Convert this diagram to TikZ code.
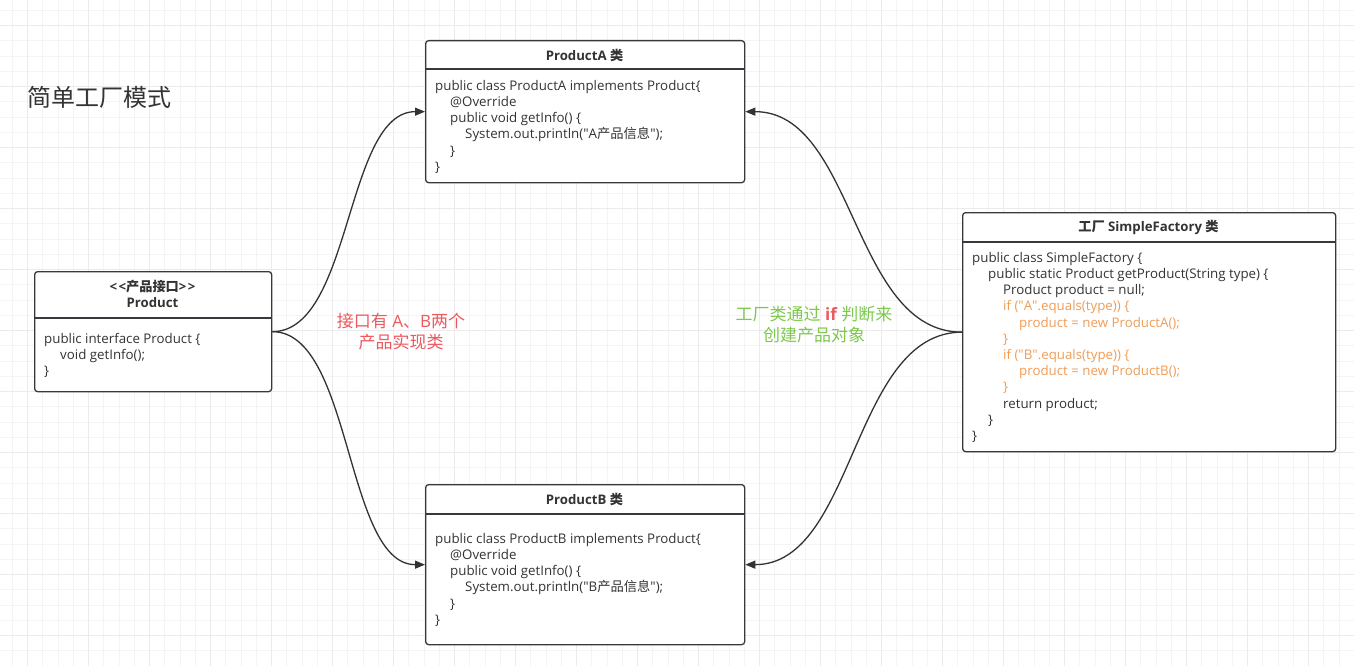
\documentclass[tikz,border=0pt]{standalone}
\usepackage{fontspec}
\setmainfont{Open Sans}
\newfontfamily\zhfont{Noto Sans CJK SC}
\usetikzlibrary{arrows.meta,calc}
\definecolor{gridminor}{HTML}{F4F4F4}
\definecolor{gridmajor}{HTML}{EBEBEB}
\definecolor{boxline}{HTML}{36393D}
\definecolor{txt}{HTML}{333333}
\definecolor{codeorange}{HTML}{F19C55}
\definecolor{labred}{HTML}{EA5A5F}
\definecolor{labgreen}{HTML}{7CC94E}
\tikzset{
  classbox/.style={draw=boxline, line width=1.3pt, rounded corners=3pt, fill=white, anchor=north west, inner sep=0pt},
  divider/.style={draw=boxline, line width=1.3pt},
  hdr/.style={font=\fontsize{13.2}{16}\selectfont\bfseries, text=txt, align=center, inner sep=0pt},
  code/.style={font=\fontsize{13.3}{16.2}\selectfont, text=txt, align=left, anchor=north west, inner sep=0pt},
  lab/.style={font=\fontsize{17}{21}\selectfont, align=center, inner sep=0pt},
  conn/.style={draw=txt, line width=1.3pt, -{Triangle[length=10pt,width=8pt]}}
}
\newcommand{\ind}[1]{\hspace*{#1pt}}
\newcommand{\zh}[1]{{\zhfont #1}}
\newcommand{\dq}{\XeTeXglyph\XeTeXcharglyph"22\relax}
\begin{document}
\begin{tikzpicture}[x=1pt,y=-1pt]
\useasboundingbox (0,0) rectangle (1354,666);
\fill[white] (0,0) rectangle (1354,666);
% grid
\foreach \i in {0,...,88} \draw[gridminor, line width=1pt] ({12.45+15.25*\i},0) -- ({12.45+15.25*\i},666);
\foreach \j in {0,...,43} \draw[gridminor, line width=1pt] (0,{10.45+15.25*\j}) -- (1354,{10.45+15.25*\j});
\foreach \i in {0,...,21} \draw[gridmajor, line width=1pt] ({27.7+61*\i},0) -- ({27.7+61*\i},666);
\foreach \j in {0,...,10} \draw[gridmajor, line width=1pt] (0,{25.7+61*\j}) -- (1354,{25.7+61*\j});

% title
\node[font=\fontsize{24}{28}\selectfont\zhfont, text=txt, anchor=west, inner sep=0pt] (title) at (27,97) {简单工厂模式};

% Product interface
\node[classbox, minimum width=237pt, minimum height=120pt] (prod) at (34,271) {};
\draw[divider] ([yshift=-47pt]prod.north west) -- ([yshift=-47pt]prod.north east);
\node[hdr] (prodh) at (152.5,294) {<\kern1.5pt<\zh{产品接口}>\kern1.5pt>\\Product};
\node[code] (prodb) at (44,333) {public interface Product \{\\
\ind{16}void getInfo();\\
\}};

% ProductA
\node[classbox, minimum width=319pt, minimum height=142pt] (pa) at (425,40) {};
\draw[divider] ([yshift=-29pt]pa.north west) -- ([yshift=-29pt]pa.north east);
\node[hdr] (pah) at (584.5,55) {ProductA \zh{类}};
\node[code] (pab) at (435,80) {public class ProductA implements Product\{\\
\ind{15}@Override\\
\ind{15}public void getInfo() \{\\
\ind{30}System.out.println(\dq A\zh{产品信息}\dq);\\
\ind{15}\}\\
\}};

% ProductB
\node[classbox, minimum width=319pt, minimum height=160pt] (pb) at (425,484) {};
\draw[divider] ([yshift=-30pt]pb.north west) -- ([yshift=-30pt]pb.north east);
\node[hdr] (pbh) at (584.5,499) {ProductB \zh{类}};
\node[code] (pbb) at (435,533) {public class ProductB implements Product\{\\
\ind{15}@Override\\
\ind{15}public void getInfo() \{\\
\ind{30}System.out.println(\dq B\zh{产品信息}\dq);\\
\ind{15}\}\\
\}};

% SimpleFactory
\node[classbox, minimum width=373pt, minimum height=239pt] (sf) at (962,212) {};
\draw[divider] ([yshift=-30pt]sf.north west) -- ([yshift=-30pt]sf.north east);
\node[hdr] (sfh) at (1148.5,227) {\zh{工厂} SimpleFactory \zh{类}};
\node[code] (sfb) at (972,252) {public class SimpleFactory \{\\
\ind{16}public static Product getProduct(String type) \{\\
\ind{31}Product product = null;\\
\ind{31}\textcolor{codeorange}{if (\dq A\dq.equals(type)) \{}\\
\ind{47}\textcolor{codeorange}{product = new ProductA();}\\
\ind{31}\textcolor{codeorange}{\}}\\
\ind{31}\textcolor{codeorange}{if (\dq B\dq.equals(type)) \{}\\
\ind{47}\textcolor{codeorange}{product = new ProductB();}\\
\ind{31}\textcolor{codeorange}{\}}\\
\ind{31}return product;\\
\ind{16}\}\\
\}};

% labels
\node[lab, text=labred] (lab1) at (401,332) {\zh{接口有} A\zh{、}B\zh{两个}\\\zh{产品实现类}};
\node[lab, text=labgreen] (lab2) at (814,325) {\zh{工厂类通过} \textcolor{labred}{\bfseries if} \zh{判断来}\\\zh{创建产品对象}};

% connectors
\draw[conn] (prod.east) .. controls +(80,0) and +(-80,0) .. (pa.west);
\draw[conn] (prod.east) .. controls +(80,0) and +(-80,0) .. (pb.west);
\draw[conn] (sf.west) .. controls +(-110,0) and +(110,0) .. (pa.east);
\draw[conn] (sf.west) .. controls +(-110,0) and +(110,0) .. (pb.east);
\end{tikzpicture}
\end{document}
